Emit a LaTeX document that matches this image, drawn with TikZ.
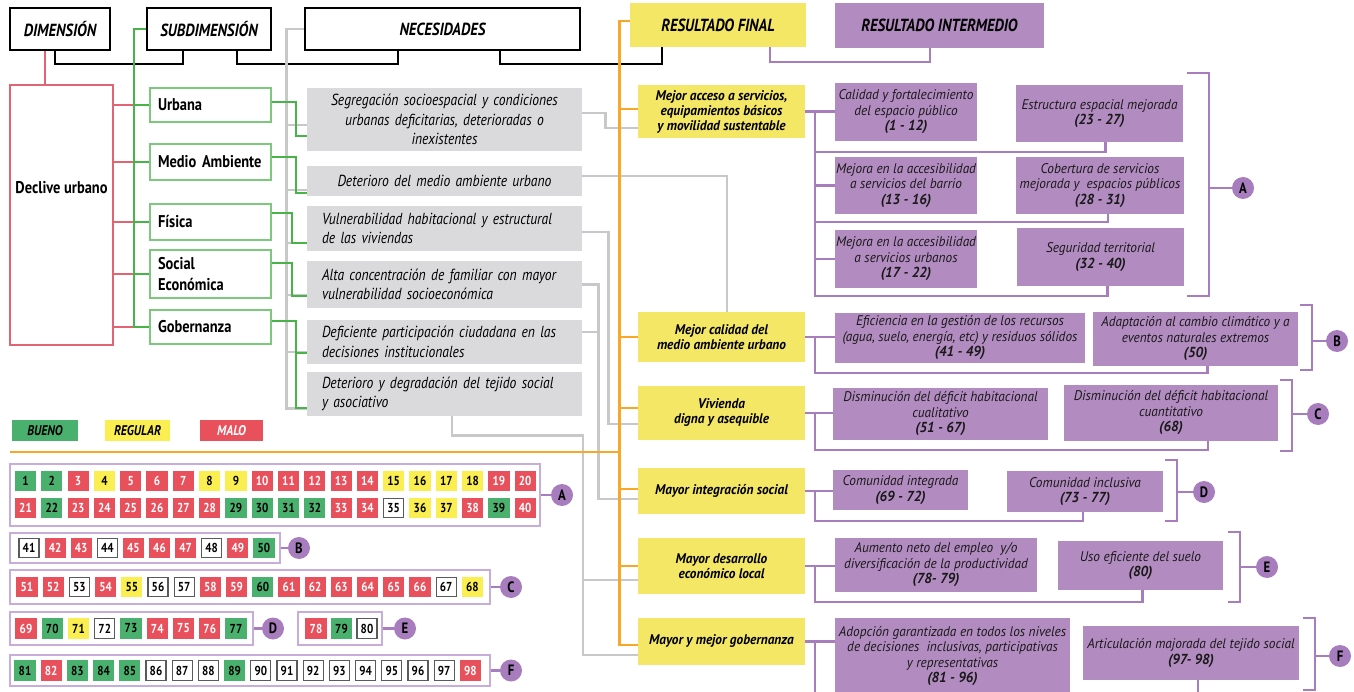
\documentclass[tikz,border=0pt]{standalone}
\usepackage{fontspec}
\setmainfont{PT Sans}
\newfontfamily\cf[FakeStretch=0.85]{PT Sans}
\newfontfamily\cn[FakeStretch=0.95]{PT Sans}
\usetikzlibrary{calc}
\definecolor{gfill}{RGB}{74,176,110}
\definecolor{rfill}{RGB}{232,80,92}
\definecolor{yfill}{RGB}{250,238,80}
\definecolor{ybox}{RGB}{244,231,102}
\definecolor{pbox}{RGB}{178,140,192}
\definecolor{pline}{RGB}{168,125,190}
\definecolor{plite}{RGB}{200,172,218}
\definecolor{orng}{RGB}{247,168,40}
\definecolor{gryl}{RGB}{200,200,200}
\definecolor{gbox}{RGB}{218,218,220}
\definecolor{grnl}{RGB}{70,180,70}
\definecolor{grnb}{RGB}{125,200,125}
\definecolor{redl}{RGB}{225,100,115}
\colorlet{fG}{gfill}\colorlet{fR}{rfill}\colorlet{fY}{yfill}\colorlet{fW}{white}
\colorlet{dG}{gfill}\colorlet{dR}{rfill}\colorlet{dY}{yfill}\definecolor{dW}{RGB}{90,90,90}
\colorlet{tG}{black}\colorlet{tR}{white}\colorlet{tY}{black}\colorlet{tW}{black}
\newcommand\mybox[6]{\node[#1, minimum width={(#4)-(#2)}, minimum height={(#5)-(#3)}] (#6) at ({((#2)+(#4))/2},{((#3)+(#5))/2})}
\newcommand\numrow[4]{\foreach \nn/\cl [count=\ii from 0] in {#4} {\node[sq, fill=f\cl, draw=d\cl, text=t\cl] (s\nn) at ({#1+#2*\ii},#3) {\nn};}}
\newcommand\rng[1]{{\fontsize{14.5}{16}\selectfont\bfseries #1}}
\tikzset{
 hdr/.style={draw=black, line width=1.6pt, fill=white, inner sep=0pt, font=\cf\bfseries\itshape\fontsize{17.5}{19}\selectfont},
 yhdr/.style={fill=ybox, inner sep=0pt, font=\cf\bfseries\itshape\fontsize{17.5}{19}\selectfont},
 phdr/.style={fill=pbox, inner sep=0pt, font=\cf\bfseries\itshape\fontsize{17.5}{19}\selectfont},
 redbox/.style={draw=redl, line width=1.4pt, fill=white, inner sep=0pt},
 sub/.style={draw=grnb, line width=1.5pt, fill=white, inner xsep=8pt, inner ysep=0pt, text width=105pt, align=left, font=\cf\bfseries\fontsize{17}{21}\selectfont},
 nec/.style={fill=gbox, inner xsep=15pt, inner ysep=0pt, text width=245pt, align=left, font=\cf\itshape\fontsize{16}{19.5}\selectfont},
 yel/.style={fill=ybox, inner sep=0pt, align=center, font=\cn\bfseries\itshape\fontsize{14}{15}\selectfont},
 pbx/.style={fill=pbox, inner sep=0pt, align=center, text=black!90, font=\cn\itshape\fontsize{14}{15.5}\selectfont},
 leg/.style={inner sep=0pt, font=\cf\bfseries\itshape\fontsize{14}{15}\selectfont},
 sq/.style={minimum width=20pt, minimum height=19.5pt, inner sep=0pt, line width=1.2pt, font=\cf\bfseries\fontsize{13}{13}\selectfont},
 grp/.style={draw=plite, line width=1.8pt, inner sep=0pt},
 circ/.style={circle, fill=pline, minimum size=22pt, inner sep=0pt, font=\cf\bfseries\fontsize{15}{15}\selectfont},
 blk/.style={draw=black, line width=1.5pt},
 rdl/.style={draw=redl, line width=1.4pt},
 grn/.style={draw=grnl, line width=2pt},
 gry/.style={draw=gryl, line width=2.6pt},
 org/.style={draw=orng, line width=2.8pt},
 pl/.style={draw=pline, line width=2.4pt},
}
\begin{document}
\begin{tikzpicture}[x=1pt,y=-1pt]
\useasboundingbox (0,0) rectangle (1354,692);
\fill[white] (0,0) rectangle (1354,692);

% headers
\mybox{hdr}{10}{8}{110}{50}{hdim}{DIMENSIÓN};
\mybox{hdr}{147}{8}{271}{50}{hsub}{SUBDIMENSIÓN};
\mybox{hdr}{305}{8}{580}{50}{hnec}{NECESIDADES};
\mybox{yhdr}{630}{3}{806}{47}{hfin}{RESULTADO FINAL};
\mybox{phdr}{835}{3}{1044}{48}{hint}{RESULTADO INTERMEDIO};

\draw[blk] ([xshift=-5pt]hdim.south) -- ++(0,13) -| ([xshift=-26pt]hsub.south);
\draw[blk] ([xshift=28pt]hsub.south) -- ++(0,13) -| ([xshift=-44.5pt]hnec.south);
\draw[blk] ([xshift=57.5pt]hnec.south) -- ++(0,13) -| ([xshift=-56pt]hfin.south);
\draw[pl,line width=2pt] ([xshift=52pt]hfin.south) -- ++(0,15) -| ([xshift=-9.5pt]hint.south);

% dimension
\mybox{redbox}{10}{85}{113}{345}{decl}{};
\node[font=\cf\bfseries\fontsize{17}{19}\selectfont] (declt) at ([yshift=27pt]decl.center) {Declive urbano};
\draw[rdl] ([xshift=-15pt]hdim.south) -- ([xshift=-16.5pt]decl.north);

% subdimensions
\mybox{sub}{150}{88}{271}{122}{urb}{Urbana};
\mybox{sub}{150}{144}{271}{180}{med}{Medio Ambiente};
\mybox{sub}{150}{204}{271}{240}{fis}{Física};
\mybox{sub}{150}{250}{271}{298}{soc}{Social\\Económica};
\mybox{sub}{150}{310}{271}{344}{gob}{Gobernanza};
\foreach \s in {urb,med,fis,soc,gob}{\draw[rdl] (decl.east |- \s.west) -- (\s.west);}
\draw[grn] (hsub.west) -- ++(-12,0) |- (gob.west);
\foreach \s in {urb,med,fis,soc}{\draw[grn] (\s.west) -- ++(-15,0);}

% necesidades
\mybox{nec,align=center}{307}{88}{582}{151}{n1}{Segregación socioespacial y condiciones\\urbanas deficitarias, deterioradas o\\inexistentes};
\mybox{nec,align=center}{307}{166}{582}{196}{n2}{Deterioro del medio ambiente urbano};
\mybox{nec}{307}{206}{582}{251}{n3}{Vulnerabilidad habitacional y estructural\\de las viviendas};
\mybox{nec}{307}{261}{582}{308}{n4}{Alta concentración de familiar con mayor\\vulnerabilidad socioeconómica};
\mybox{nec}{307}{320}{582}{364}{n5}{Deficiente participación ciudadana en las\\decisiones institucionales};
\mybox{nec}{307}{372}{582}{416}{n6}{Deterioro y degradación del tejido social\\y asociativo};

% gray trunk left of necesidades
\draw[gry] (hnec.west) -- ++(-18,0) |- ([yshift=8pt]n6.south west);
\draw[gry] ([yshift=-5.5pt]n1.west) -- ++(-20,0);
\draw[gry] ([yshift=-9pt]n2.west) -- ++(-20,0);
\draw[gry] ([yshift=-14.5pt]n3.west) -- ++(-20,0);
\draw[gry] ([yshift=-10.5pt]n4.west) -- ++(-20,0);
\draw[gry] ([yshift=-10pt]n5.west) -- ++(-20,0);

% green sub -> nec
\draw[grn] ([yshift=3pt]urb.east) -- ++(24,0) |- ([yshift=-16.5pt]n1.west);
\draw[grn] ([yshift=5pt]med.east) -- ++(24,0) |- ([yshift=-12pt]n2.west);
\draw[grn] ([yshift=9pt]fis.east) -- ++(20,0) |- ([yshift=-14.5pt]n3.west);
\draw[grn] ([yshift=11pt]soc.east) -- ++(20,0) |- ([yshift=-11.5pt]n4.west);
\draw[grn] ([yshift=6pt]gob.east) -- ++(24,0) |- ([yshift=-14pt]n6.west);
\draw[grn] ([yshift=-11pt]n5.west) -- ++(-12,0);

% resultados finales
\mybox{yel}{638}{85}{805}{138}{y1}{Mejor acceso a servicios,\\equipamientos básicos\\y movilidad sustentable};
\mybox{yel}{638}{312}{805}{362}{y2}{Mejor calidad del\\medio ambiente urbano};
\mybox{yel}{638}{386}{805}{440}{y3}{Vivienda\\digna y asequible};
\mybox{yel}{638}{468}{805}{514}{y4}{Mayor integración social};
\mybox{yel}{638}{538}{805}{594}{y5}{Mayor desarrollo\\económico local};
\mybox{yel}{638}{618}{805}{665}{y6}{Mayor y mejor gobernanza};

% gray nec -> final
\draw[gry] ([yshift=6.5pt]n1.east) -- ++(23,0) |- ([yshift=-16.5pt]y1.west);
\draw[gry] ([yshift=5pt]n2.east) -| ([xshift=5.5pt]y2.north);
\draw[gry] ([yshift=-3.5pt]n3.east) -- ++(26,0) |- ([yshift=-11pt]y3.west);
\draw[gry] (n4.east) -- ++(16,0) |- ([yshift=-8pt]y4.west);
\draw[gry] ([yshift=10pt]n5.east) -- ++(16,0);
\draw[gry] ([xshift=7.5pt]n6.south) -- ++(0,19) -- ++(131,0) |- ([yshift=-13.5pt]y6.west);
\draw[gry] ([yshift=-14pt]y5.west) -- ++(-55,0);

% orange
\draw[org] ([yshift=4pt]hfin.west) -- ++(-10,0) coordinate (ot) |- ([yshift=-3.5pt]y6.west);
\draw[org] ([yshift=2.5pt]y1.west) -- ++(-18,0);
\draw[org] (y2.west) -- ++(-18,0);
\draw[org] ([yshift=5pt]y3.west) -- ++(-18,0);
\draw[org] ([yshift=2pt]y4.west) -- ++(-18,0);
\draw[org] (y5.west) -- ++(-18,0);
\coordinate (sepL) at (10,452);
\draw[org,line width=2.2pt] (sepL) -- (sepL -| ot);

% intermediate results
\mybox{pbx}{835}{83}{977}{141}{p1}{Calidad y fortalecimiento\\del espacio público\\\rng{(1 - 12)}};
\mybox{pbx}{1016}{85}{1183}{142}{p2}{Estructura espacial mejorada\\\rng{(23 - 27)}};
\mybox{pbx}{835}{157}{977}{214}{p3}{Mejora en la accesibilidad\\a servicios del barrio\\\rng{(13 - 16)}};
\mybox{pbx}{1016}{157}{1184}{214}{p4}{Cobertura de servicios\\mejorada y\ \ espacios públicos\\\rng{(28 - 31)}};
\mybox{pbx}{835}{230}{977}{288}{p5}{Mejora en la accesibilidad\\a servicios urbanos\\\rng{(17 - 22)}};
\mybox{pbx}{1017}{228}{1184}{286}{p6}{Seguridad territorial\\\rng{(32 - 40)}};
\mybox{pbx}{835}{313}{1085}{363}{p7}{Eficiencia en la gestión de los recursos\\(agua, suelo, energía, etc) y residuos sólidos\\\rng{(41 - 49)}};
\mybox{pbx}{1093}{312}{1298}{366}{p8}{Adaptación al cambio climático y a\\eventos naturales extremos\\\rng{(50)}};
\mybox{pbx}{833}{388}{1048}{440}{p9}{Disminución del déficit habitacional\\cualitativo\\\rng{(51 - 67)}};
\mybox{pbx}{1064}{385}{1278}{441}{p10}{Disminución del déficit habitacional\\cuantitativo\\\rng{(68)}};
\mybox{pbx}{833}{470}{968}{510}{p11}{Comunidad integrada\\\rng{(69 - 72)}};
\mybox{pbx}{1007}{471}{1163}{512}{p12}{Comunidad inclusiva\\\rng{(73 - 77)}};
\mybox{pbx}{835}{538}{1037}{592}{p13}{Aumento neto del empleo\ \ y/o\\diversificación de la productividad\\\rng{(78- 79)}};
\mybox{pbx}{1058}{541}{1223}{590}{p14}{Uso eficiente del suelo\\\rng{(80)}};
\mybox{pbx}{835}{618}{1070}{694}{p15}{Adopción garantizada en todos los niveles\\de decisiones\ \ inclusivas, participativas\\y representativas\\\rng{(81 - 96)}};
\mybox{pbx}{1083}{626}{1299}{680}{p16}{Articulación majorada del tejido social\\\rng{(97- 98)}};

% purple connectors final -> intermediate
\coordinate (ax) at ([xshift=10pt]y1.east);
\draw[pl] (y1.east) -- (y1.east -| p1.west);
\draw[pl] ([xshift=6pt]p2.south) -- ++(0,10) -| (ax);
\draw[pl] ([xshift=8pt]p4.south) -- ++(0,8) -| (ax);
\draw[pl] ([xshift=7pt]p6.south) -- ++(0,10) -| (ax);
\draw[pl] (ax |- p3.west) -- (p3.west);
\draw[pl] (ax |- p5.west) -- (p5.west);
\coordinate (bx) at ([xshift=10pt]y2.east);
\draw[pl] (y2.east) -- (y2.east -| p7.west);
\draw[pl] ([xshift=12pt]p8.south) -- ++(0,7) -| (bx);
\coordinate (cx) at ([xshift=10pt]y3.east);
\draw[pl] (y3.east) -- (y3.east -| p9.west);
\draw[pl] ([xshift=37pt]p10.south) -- ++(0,9) -| (cx);
\coordinate (dx) at ([xshift=10pt]y4.east);
\draw[pl] (y4.east) -- (y4.east -| p11.west);
\draw[pl] ([xshift=-2pt]p12.south) -- ++(0,9) -| (dx);
\coordinate (ex) at ([xshift=10pt]y5.east);
\draw[pl] (y5.east) -- (y5.east -| p13.west);
\draw[pl] ([xshift=2pt]p14.south) -- ++(0,12) -| (ex);
\coordinate (fx) at ([xshift=10pt]y6.east);
\draw[pl] (y6.east) -- (y6.east -| p15.west);
\draw[pl] (fx) -- ++(0,50);
\draw[pl] ([xshift=7pt]p16.south) -- ++(0,15);

% right brackets and circles
\node[circ] (cA) at (1243,188) {A};
\node[circ] (cB) at (1337,341) {B};
\node[circ] (cC) at (1318,414) {C};
\node[circ] (cD) at (1204,492) {D};
\node[circ] (cE) at (1267,567) {E};
\node[circ] (cF) at (1340,656) {F};
\draw[pl] (1187,73) -- (1209,73) -- (1209,296) -- (1187,296);
\draw[pl] (1209,188) -- (cA.west);
\draw[pl] (1300,305) -- (1312,305) -- (1312,370) -- (1300,370);
\draw[pl] (1312,341) -- (cB.west);
\draw[pl] (1280,380) -- (1292,380) -- (1292,451) -- (1280,451);
\draw[pl] (1292,414) -- (cC.west);
\draw[pl] (1165,460) -- (1177,460) -- (1177,521) -- (1165,521);
\draw[pl] (1177,492) -- (cD.west);
\draw[pl] (1228,532) -- (1240,532) -- (1240,602) -- (1228,602);
\draw[pl] (1240,567) -- (cE.west);
\draw[pl] (1303,618) -- (1315,618) -- (1315,690) -- (1303,690);
\draw[pl] (1315,656) -- (cF.west);

% legend
\mybox{leg,fill=gfill}{12}{420}{78}{441}{lgB}{BUENO};
\mybox{leg,fill=yfill}{105}{420}{170}{441}{lgR}{REGULAR};
\mybox{leg,fill=rfill,text=white}{200}{420}{263}{441}{lgM}{MALO};

% number groups
\mybox{grp}{10}{464}{540}{526}{gA}{};
\mybox{grp}{10}{533}{280}{563}{gB}{};
\mybox{grp}{10}{570}{490}{604}{gC}{};
\mybox{grp}{10}{612}{253}{645}{gD}{};
\mybox{grp}{298}{612}{382}{645}{gE}{};
\mybox{grp}{10}{655}{490}{686}{gF}{};
\node[circ] (cA2) at (562,495) {A};
\node[circ] (cB2) at (299,548) {B};
\node[circ] (cC2) at (511,587) {C};
\node[circ] (cD2) at (273,628.5) {D};
\node[circ] (cE2) at (405,628.5) {E};
\node[circ] (cF2) at (511,670.5) {F};
\foreach \g in {A,B,C,D,E,F}{\draw[pl] (g\g.east) -- (c\g2.west);}

\numrow{25.5}{26.3}{481}{1/G,2/G,3/R,4/Y,5/R,6/R,7/R,8/Y,9/Y,10/R,11/R,12/R,13/R,14/R,15/Y,16/Y,17/Y,18/Y,19/R,20/R}
\numrow{25.5}{26.3}{508}{21/R,22/G,23/R,24/R,25/R,26/R,27/R,28/R,29/G,30/G,31/G,32/G,33/R,34/R,35/W,36/Y,37/Y,38/R,39/G,40/R}
\numrow{29}{26.1}{548}{41/W,42/R,43/R,44/W,45/R,46/R,47/R,48/W,49/R,50/G}
\numrow{27}{26.2}{587}{51/R,52/R,53/W,54/R,55/Y,56/W,57/W,58/R,59/R,60/G,61/R,62/R,63/R,64/R,65/R,66/R,67/W,68/Y}
\numrow{26}{26.25}{628.5}{69/R,70/G,71/Y,72/W,73/G,74/R,75/R,76/R,77/G}
\numrow{316}{25.5}{628.5}{78/R,79/G,80/W}
\numrow{25}{26.2}{670.5}{81/G,82/R,83/G,84/G,85/G,86/W,87/W,88/W,89/G,90/W,91/W,92/W,93/W,94/W,95/W,96/W,97/W,98/R}
\end{tikzpicture}
\end{document}
